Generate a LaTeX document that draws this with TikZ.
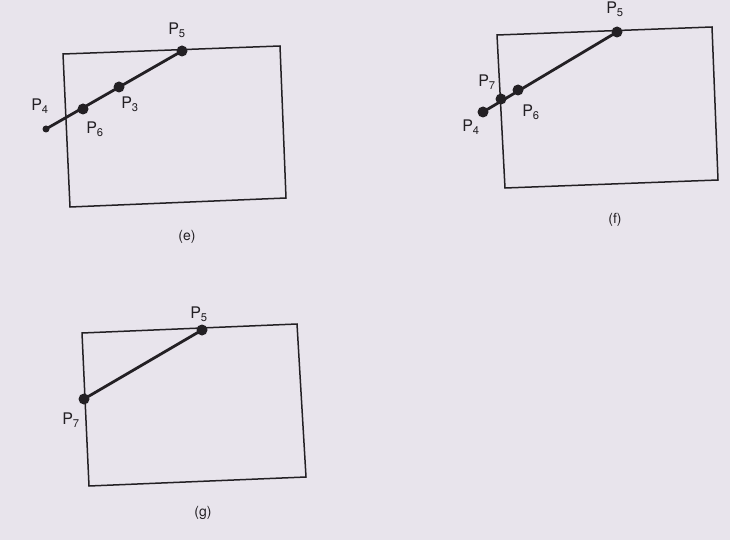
\documentclass[tikz,border=0pt]{standalone}
\usepackage{fontspec}
\setmainfont{TeX Gyre Heros}
\definecolor{paper}{RGB}{232,228,236}
\definecolor{ink}{RGB}{35,32,36}
\newcommand{\pl}[1]{P\textsubscript{#1}}
\tikzset{
  box/.style={draw=ink, line width=1.5pt, line join=miter},
  seg/.style={draw=ink, line width=2.8pt},
  dot/.style={circle, fill=ink, inner sep=0pt, minimum size=11pt},
  smalldot/.style={circle, fill=ink, inner sep=0pt, minimum size=7pt},
  lbl/.style={text=ink, font=\fontsize{16}{16}\selectfont, inner sep=0pt},
  captext/.style={text=ink, font=\fontsize{14}{14}\selectfont, inner sep=0pt}
}
\begin{document}
\begin{tikzpicture}[x=1pt,y=-1pt]
\fill[paper] (0,0) rectangle (730,540);
\useasboundingbox (0,0) rectangle (730,540);

% ---------- panel (e)
\draw[box] (63,54) -- (280,46) -- (286,198) -- (70,207) -- cycle;
\node[smalldot] (e4) at (46,129) {};
\node[dot] (e6) at (83,109) {};
\node[dot] (e3) at (119,87) {};
\node[dot] (e5) at (182,51) {};
\draw[seg] (e4.center) -- (e5.center);
\node[lbl] (le4) at (40,106) {\pl{4}};
\node[lbl] (le6) at (95,129) {\pl{6}};
\node[lbl] (le3) at (130,104) {\pl{3}};
\node[lbl] (le5) at (177,30) {\pl{5}};
\node[captext] (ce) at (187,237) {(e)};

% ---------- panel (f)
\draw[box] (497,35) -- (712,27) -- (718,180) -- (505,188) -- cycle;
\node[dot] (f4) at (483,112) {};
\node[dot] (f7) at (501,99) {};
\node[dot] (f6) at (518,90) {};
\node[dot] (f5) at (617,32) {};
\draw[seg] (f4.center) -- (f5.center);
\node[lbl] (lf7) at (487,82) {\pl{7}};
\node[lbl] (lf6) at (531,112) {\pl{6}};
\node[lbl] (lf4) at (471,127) {\pl{4}};
\node[lbl] (lf5) at (615,9) {\pl{5}};
\node[captext] (cf) at (615,220) {(f)};

% ---------- panel (g)
\draw[box] (82,333) -- (297,324) -- (306,477) -- (89,486) -- cycle;
\node[dot] (g7) at (84,399) {};
\node[dot] (g5) at (202,330) {};
\draw[seg] (g7.center) -- (g5.center);
\node[lbl] (lg5) at (199,314) {\pl{5}};
\node[lbl] (lg7) at (71,420) {\pl{7}};
\node[captext] (cg) at (203,513) {(g)};
\end{tikzpicture}
\end{document}
